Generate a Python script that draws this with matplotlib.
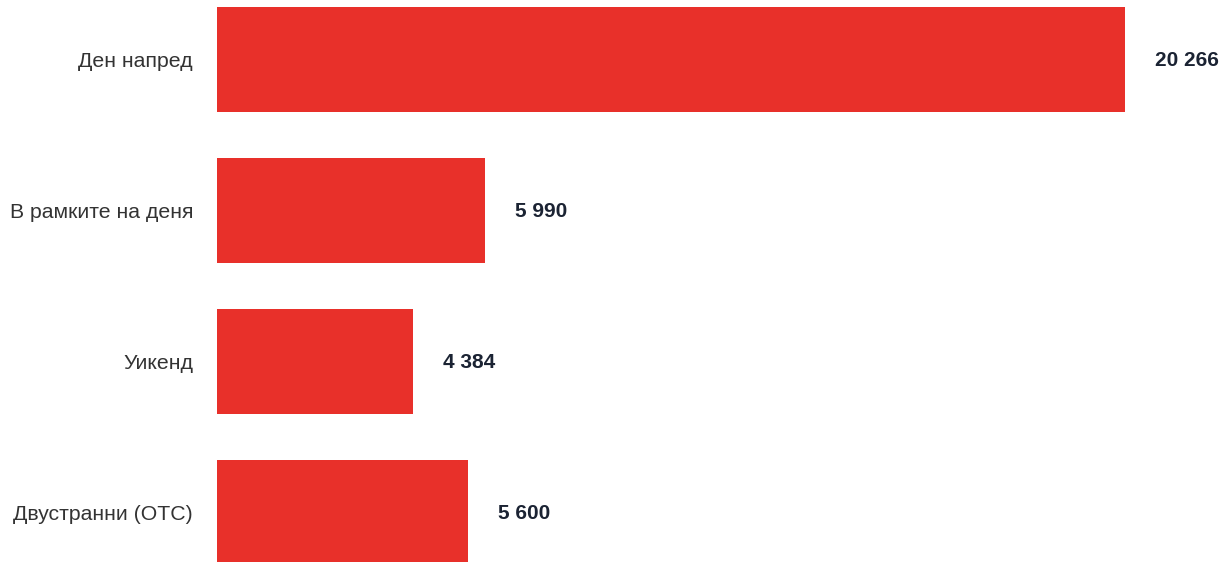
import matplotlib
matplotlib.use("Agg")
import matplotlib.pyplot as plt

categories = ["Ден напред", "В рамките на деня", "Уикенд", "Двустранни (OTC)"]
values = [20266, 5990, 4384, 5600]
value_labels = ["20 266", "5 990", "4 384", "5 600"]

W, H = 1231, 562
fig = plt.figure(figsize=(W / 100, H / 100), dpi=100)
plt.rcParams['font.family'] = ['Liberation Sans', 'DejaVu Sans']

left_px, right_px = 217, 1231
ax = fig.add_axes([left_px / W, 0, (right_px - left_px) / W, 1])
scale = 908 / 20266  # px per unit
ax.set_xlim(0, (right_px - left_px) / scale)

spacing = 151
c0 = 59.5
ax.set_ylim(3 + (H - (c0 + 3 * spacing)) / spacing, -c0 / spacing)

ypos = list(range(len(categories)))
ax.barh(ypos, values, height=0.7, color="#E8302A")

for y, v, lab in zip(ypos, values, value_labels):
    ax.annotate(lab, (v, y), xytext=(30, -1), textcoords="offset pixels",
                ha="left", va="center", fontsize=15, fontweight="bold",
                color="#1B2333")

ax.set_yticks(ypos)
ax.set_yticklabels(categories, fontsize=15.3, color="#333333")
ax.tick_params(axis="y", length=0, pad=24 * 72 / 100)
ax.set_xticks([])
for s in ax.spines.values():
    s.set_visible(False)

fig.savefig("out.png", dpi=100)
